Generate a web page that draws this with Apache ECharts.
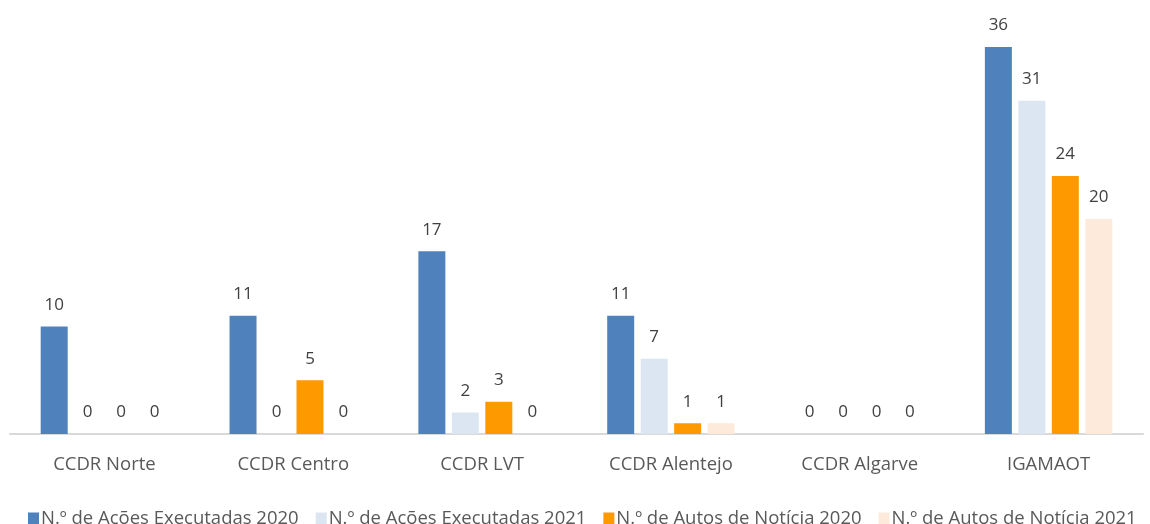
<!DOCTYPE html>
<html>
<head>
<meta charset="utf-8">
<script src="https://cdn.jsdelivr.net/npm/echarts@6/dist/echarts.min.js"></script>
<style>
  html, body { margin: 0; padding: 0; background: #fff; }
  #chart { width: 1150px; height: 524px; }
</style>
</head>
<body>
<div id="chart"></div>
<script>
const categorias = ['CCDR Norte', 'CCDR Centro', 'CCDR LVT', 'CCDR Alentejo', 'CCDR Algarve', 'IGAMAOT'];
const acoes2020 = [10, 11, 17, 11, 0, 36];
const acoes2021 = [0, 0, 2, 7, 0, 31];
const autos2020 = [0, 5, 3, 1, 0, 24];
const autos2021 = [0, 0, 0, 1, 0, 20];

const nomes = [
  'N.º de Acões Executadas 2020',
  'N.º de Acões Executadas 2021',
  'N.º de Autos de Notícia 2020',
  'N.º de Autos de Notícia 2021'
];
const cores = ['#4F81BD', '#DCE6F2', '#FF9900', '#FDEADA'];

const fonte = '"Open Sans", "Liberation Sans", sans-serif';

var myChart = echarts.init(document.getElementById('chart'));
var option;

function serie(nome, dados, cor) {
  return {
    name: nome,
    type: 'bar',
    data: dados,
    barWidth: 27,
    barGap: '24%',
    itemStyle: { color: cor },
    label: {
      show: true,
      position: 'top',
      distance: 13,
      color: '#404040',
      fontSize: 17,
      fontFamily: fonte
    }
  };
}

option = {
  animation: false,
  grid: { left: 10, right: 7, top: 4, bottom: 90 },
  legend: {
    bottom: -4,
    left: 28,
    width: 1122,
    padding: 0,
    itemWidth: 11,
    itemHeight: 12,
    itemGap: 17,
    icon: 'rect',
    textStyle: { color: '#595959', fontSize: 18.5, fontFamily: fonte, padding: [0, 0, 0, -3] }
  },
  xAxis: {
    type: 'category',
    data: categorias,
    axisTick: { show: false },
    axisLine: { lineStyle: { color: '#D9D9D9', width: 2 } },
    axisLabel: { color: '#595959', fontSize: 18.5, fontFamily: fonte, margin: 21 }
  },
  yAxis: {
    type: 'value',
    min: 0,
    max: 40,
    show: false,
    splitLine: { show: false }
  },
  series: [
    serie(nomes[0], acoes2020, cores[0]),
    serie(nomes[1], acoes2021, cores[1]),
    serie(nomes[2], autos2020, cores[2]),
    serie(nomes[3], autos2021, cores[3])
  ]
};

option && myChart.setOption(option);
</script>
</body>
</html>
